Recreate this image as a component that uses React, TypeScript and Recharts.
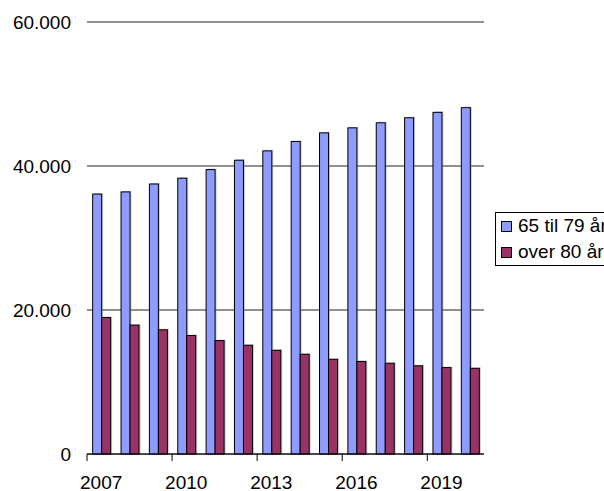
import React from 'react';
import { BarChart, Bar, XAxis, YAxis, CartesianGrid } from 'recharts';

const years = ['2007', '2008', '2009', '2010', '2011', '2012', '2013', '2014', '2015', '2016', '2017', '2018', '2019', '2020'];
const age65to79 = [36100, 36400, 37500, 38300, 39500, 40800, 42100, 43400, 44600, 45300, 46000, 46700, 47450, 48100];
const over80 = [18950, 17900, 17250, 16450, 15750, 15100, 14400, 13850, 13150, 12850, 12600, 12250, 12000, 11900];
const yTicks = [0, 20000, 40000, 60000];

const seriesNames = ['65 til 79 år', 'over 80 år'];
const colors = ['#8E9CFF', '#993366'];

const data = years.map((year, i) => ({
  year,
  young: age65to79[i],
  old: over80[i],
}));

const font = '"Liberation Sans", Arial, sans-serif';
const W = 604;
const H = 491;
const margin = { top: 22, right: 120, left: 0, bottom: 0 };
const xAxisHeight = 37;
const yAxisWidth = 87;
const plotWidth = W - margin.left - margin.right - yAxisWidth;
const bandWidth = plotWidth / years.length;
const axisY = H - margin.bottom - xAxisHeight;

const formatY = (v: number) => (v === 0 ? '0' : v.toLocaleString('de-DE'));

const YTick = (props: any) => {
  const { x, y, payload } = props;
  return (
    <text x={x - 8} y={y} textAnchor="end" dominantBaseline="central" fontSize={19} fontFamily={font} fill="#000">
      {formatY(payload.value)}
    </text>
  );
};

const XTick = (props: any) => {
  const { x, payload } = props;
  const left = x - bandWidth / 2;
  return (
    <g>
      <line x1={left} x2={left} y1={axisY} y2={axisY + 7} stroke="#000" strokeWidth={1} />
      <text x={x} y={axisY + 28} textAnchor="middle" dominantBaseline="central" fontSize={19} fontFamily={font} fill="#000">
        {payload.value}
      </text>
    </g>
  );
};

const ShadowBar = (props: any) => {
  const { x, y, width, height, fill } = props;
  if (!height || height <= 0) return null;
  return (
    <g>
      <rect x={x + 1.5} y={y - 1} width={width} height={height + 1} fill="#999" opacity={0.5} />
      <rect x={x} y={y} width={width} height={height} fill={fill} stroke="#000" strokeWidth={1} />
    </g>
  );
};

// legend drawn as an overlay so it does not eat into the plot area;
// the box runs past the right edge like in the original
const LegendBox = () => (
  <div style={{ position: 'absolute', left: 495, top: 212, width: W - 495, overflow: 'hidden' }}>
    <div
      style={{
        border: '1px solid #000',
        background: '#fff',
        padding: '0 0 0 5px',
        fontFamily: font,
        fontSize: 19,
        width: 160,
        boxSizing: 'border-box',
      }}
    >
      {seriesNames.map((name, i) => (
        <div key={name} style={{ display: 'flex', alignItems: 'center', height: 26, whiteSpace: 'nowrap' }}>
          <span
            style={{
              display: 'inline-block',
              width: 9,
              height: 9,
              background: colors[i],
              border: '1px solid #000',
              marginRight: 6,
            }}
          />
          <span>{name}</span>
        </div>
      ))}
    </div>
  </div>
);

export default function App() {
  return (
    <div style={{ width: W, height: H, background: '#fff', position: 'relative' }}>
      <style>{'body { margin: 0; }'}</style>
      <BarChart width={W} height={H} data={data} margin={margin} barCategoryGap="20%" barGap={0}>
        <CartesianGrid horizontal vertical={false} stroke="#222" strokeWidth={1} />
        <XAxis
          dataKey="year"
          interval={2}
          tickLine={false}
          axisLine={{ stroke: '#000' }}
          tick={<XTick />}
          height={xAxisHeight}
        />
        <YAxis
          width={yAxisWidth}
          domain={[0, 60000]}
          ticks={yTicks}
          axisLine={false}
          tickLine={false}
          tick={<YTick />}
        />
        <Bar dataKey="young" name={seriesNames[0]} fill={colors[0]} shape={<ShadowBar />} isAnimationActive={false} />
        <Bar dataKey="old" name={seriesNames[1]} fill={colors[1]} shape={<ShadowBar />} isAnimationActive={false} />
      </BarChart>
      <LegendBox />
    </div>
  );
}
